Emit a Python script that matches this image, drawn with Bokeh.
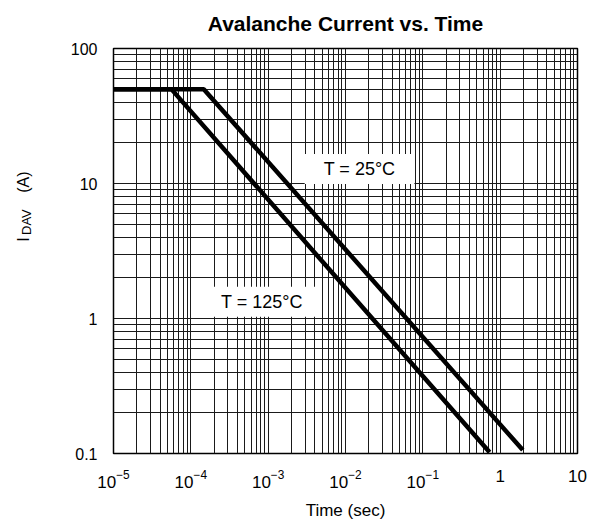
import math
from bokeh.plotting import figure
from bokeh.models import FixedTicker, Range1d, Label, LinearAxis
from bokeh.embed import file_html
from bokeh.resources import INLINE

# ---- data ----
t25_time = [1e-5, 1.47e-4, 1.96]
t25_current = [50, 50, 0.106]
t125_time = [1e-5, 5.6e-5, 0.73]
t125_current = [50, 50, 0.102]

x_ticks = [1e-5, 1e-4, 1e-3, 1e-2, 1e-1, 1, 10]
x_plain_labels = {1: "1", 10: "10"}
y_ticks = [0.1, 1, 10, 100]
y_tick_labels = ["0.1", "1", "10", "100"]

curve_labels = ["T = 25°C", "T = 125°C"]
curve_label_x = [0.0152, 8.3e-4]
curve_label_y = [12.8, 1.33]

FONT = "Liberation Sans"
NBSP = "\u00a0"

x_minor = [m * 10.0 ** k for k in range(-5, 1) for m in range(2, 10)]
y_minor = [m * 10.0 ** k for k in range(-1, 2) for m in range(2, 10)]

p = figure(width=591, height=522, x_axis_type="log", y_axis_type="log",
           x_range=Range1d(1e-5, 10), y_range=Range1d(0.1, 100),
           output_backend="svg", toolbar_location=None,
           min_border_left=113, min_border_right=14,
           min_border_top=47, min_border_bottom=68)

p.title.text = "Avalanche Current vs. Time"
p.title.align = "center"
p.title.text_font = FONT
p.title.text_font_size = "21px"
p.title.text_font_style = "bold"
p.title.text_color = "black"
p.title.standoff = 23
p.title.vertical_align = "top"

p.outline_line_color = "black"
p.outline_line_width = 1.5
p.background_fill_color = "white"
p.border_fill_color = "white"

xt = FixedTicker(ticks=x_ticks, minor_ticks=x_minor)
yt = FixedTicker(ticks=y_ticks, minor_ticks=y_minor)
p.xaxis.ticker = xt
p.yaxis.ticker = yt
p.xgrid.ticker = xt
p.ygrid.ticker = yt

for g in (p.xgrid, p.ygrid):
    g.grid_line_color = "#1a1a1a"
    g.grid_line_width = 1
    g.grid_line_alpha = 1
    g.minor_grid_line_color = "#1a1a1a"
    g.minor_grid_line_width = 1
    g.minor_grid_line_alpha = 1


def plain_axis(ax):
    ax.axis_line_color = None
    ax.major_tick_line_color = None
    ax.minor_tick_line_color = None
    ax.major_tick_out = 0
    ax.major_tick_in = 0
    ax.minor_tick_out = 0
    ax.minor_tick_in = 0
    ax.major_label_text_font = FONT
    ax.major_label_text_color = "black"
    ax.axis_label_text_font = FONT
    ax.axis_label_text_font_style = "normal"
    ax.axis_label_text_color = "black"


plain_axis(p.xaxis[0])
plain_axis(p.yaxis[0])

p.yaxis.major_label_overrides = {v: s for v, s in zip(y_ticks, y_tick_labels)}
p.yaxis.major_label_text_font_size = "16px"
p.yaxis.major_label_standoff = 16
# subscript part of the y label, lying just below the baseline of "I"
p.yaxis.axis_label = NBSP * 16 + "DAV"
p.yaxis.axis_label_text_font_size = "13px"
p.yaxis.axis_label_standoff = 34

# outer y label part: I ... (A)
y_label_axis = LinearAxis(ticker=FixedTicker(ticks=[]), major_label_standoff=0,
                          axis_label=NBSP * 20 + "I" + NBSP * 10 + "(A)")
plain_axis(y_label_axis)
y_label_axis.axis_label_text_font_size = "16px"
y_label_axis.axis_label_standoff = -16
p.add_layout(y_label_axis, "left")

# x axis: log formatter gives 10 with raised exponent; 1 and 10 written plainly
p.xaxis.major_label_overrides = x_plain_labels
p.xaxis.major_label_text_font_size = "17px"
p.xaxis.major_label_standoff = 16
p.xaxis.axis_label = "Time (sec)"
p.xaxis.axis_label_text_font_size = "17px"
p.xaxis.axis_label_standoff = 10

# curves
p.line(t25_time, t25_current, line_color="black", line_width=4.5)
p.line(t125_time, t125_current, line_color="black", line_width=4.5)

# curve labels with white boxes
for txt, lx, ly in zip(curve_labels, curve_label_x, curve_label_y):
    p.add_layout(Label(x=lx, y=ly, text=txt, text_align="center", text_baseline="middle",
                       text_font=FONT, text_font_size="18px", text_color="black",
                       background_fill_color="white", background_fill_alpha=1,
                       padding=dict(left=19, right=19, top=5, bottom=5)))

open("out.html", "w").write(file_html(p, INLINE))
